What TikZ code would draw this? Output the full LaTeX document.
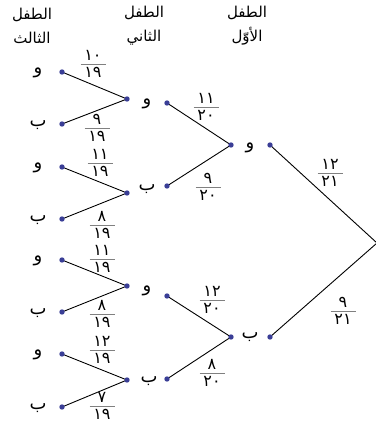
\documentclass[tikz,border=0pt]{standalone}
\usepackage{amsmath}
\usepackage{fontspec}
\usepackage{xcolor}
\newfontfamily\arabicfont[Script=Arabic]{DejaVu Sans}
\TeXXeTstate=1
\definecolor{dotblue}{RGB}{58,62,150}
\newcommand\fr[2]{{\color{gray}$\genfrac{}{}{0.9pt}{1}%
  {\makebox[25pt]{\color{black}\raisebox{0pt}[\height][\dimexpr\depth+2.5pt]{#1}}}%
  {\mbox{\color{black}\raisebox{0pt}[\dimexpr\height+2pt][\depth]{#2}}}$}}
\usetikzlibrary{calc}

\begin{document}
\begin{tikzpicture}[x=1pt,y=-1pt,
  head/.style={font=\arabicfont\fontsize{15}{24}\selectfont, align=center, inner sep=0pt},
  letter/.style={font=\arabicfont\fontsize{18}{18}\selectfont, inner sep=0pt},
  frac/.style={font=\arabicfont\fontsize{16}{16}\selectfont, inner sep=0pt},
  edge/.style={black, line width=0.9pt},
  dot/.style={fill=dotblue}]

\useasboundingbox (0,0) rectangle (375,428);

% Headers
\node[head] (h3) at (32,26) {\beginR الطفل\endR\\\beginR الثالث\endR};
\node[head] (h2) at (144,26) {\beginR الطفل\endR\\\beginR الثاني\endR};
\node[head] (h1) at (247,26) {\beginR الطفل\endR\\\beginR الأوّل\endR};

% Root
\coordinate (root) at (377,243);

% First child
\coordinate (a-in) at (270,145);
\coordinate (a-out) at (231,145);
\node[letter] (a) at (250,148) {و};
\coordinate (b-in) at (270,337);
\coordinate (b-out) at (231,337);
\node[letter] (b) at (250,337) {ب};

% Second child
\coordinate (aa-in) at (167,103);
\coordinate (aa-out) at (127,99);
\node[letter] (aa) at (147,104) {و};
\coordinate (ab-in) at (167,186);
\coordinate (ab-out) at (127,193);
\node[letter] (ab) at (147,189) {ب};
\coordinate (ba-in) at (167,296);
\coordinate (ba-out) at (127,286);
\node[letter] (ba) at (147,291) {و};
\coordinate (bb-in) at (167,379);
\coordinate (bb-out) at (127,380);
\node[letter] (bb) at (149,381) {ب};

% Third child
\foreach \n/\y/\t in {1/72/و,2/124/ب,3/167/و,4/219/ب,5/260/و,6/312/ب,7/354/و,8/407/ب}{
  \coordinate (c\n) at (62,\y);
  \node[letter] (c\n-l) at (38,\y+1) {\t};
}

% Branches
\draw[edge] (root) -- (a-in);
\draw[edge] (root) -- (b-in);
\draw[edge] (a-out) -- (aa-in);
\draw[edge] (a-out) -- (ab-in);
\draw[edge] (b-out) -- (ba-in);
\draw[edge] (b-out) -- (bb-in);
\draw[edge] (aa-out) -- (c1);
\draw[edge] (aa-out) -- (c2);
\draw[edge] (ab-out) -- (c3);
\draw[edge] (ab-out) -- (c4);
\draw[edge] (ba-out) -- (c5);
\draw[edge] (ba-out) -- (c6);
\draw[edge] (bb-out) -- (c7);
\draw[edge] (bb-out) -- (c8);

% Dots
\foreach \p in {a-in,a-out,b-in,b-out,aa-in,aa-out,ab-in,ab-out,ba-in,ba-out,bb-in,bb-out,c1,c2,c3,c4,c5,c6,c7,c8}
  \fill[dot] (\p) circle (2.7);

% Probabilities
\node[frac] (p-a) at (330,173) {\fr{١٢}{٢١}};
\node[frac] (p-b) at (343,311) {\fr{٩}{٢١}};
\node[frac] (p-aa) at (206,107) {\fr{١١}{٢٠}};
\node[frac] (p-ab) at (208,187) {\fr{٩}{٢٠}};
\node[frac] (p-ba) at (212,300) {\fr{١٢}{٢٠}};
\node[frac] (p-bb) at (212,373) {\fr{٨}{٢٠}};
\node[frac] (p-c1) at (93,64) {\fr{١٠}{١٩}};
\node[frac] (p-c2) at (97,128) {\fr{٩}{١٩}};
\node[frac] (p-c3) at (100,163) {\fr{١١}{١٩}};
\node[frac] (p-c4) at (102,225) {\fr{٨}{١٩}};
\node[frac] (p-c5) at (102,259) {\fr{١١}{١٩}};
\node[frac] (p-c6) at (102,314) {\fr{٨}{١٩}};
\node[frac] (p-c7) at (102,350) {\fr{١٢}{١٩}};
\node[frac] (p-c8) at (102,406) {\fr{٧}{١٩}};

\end{tikzpicture}
\end{document}
